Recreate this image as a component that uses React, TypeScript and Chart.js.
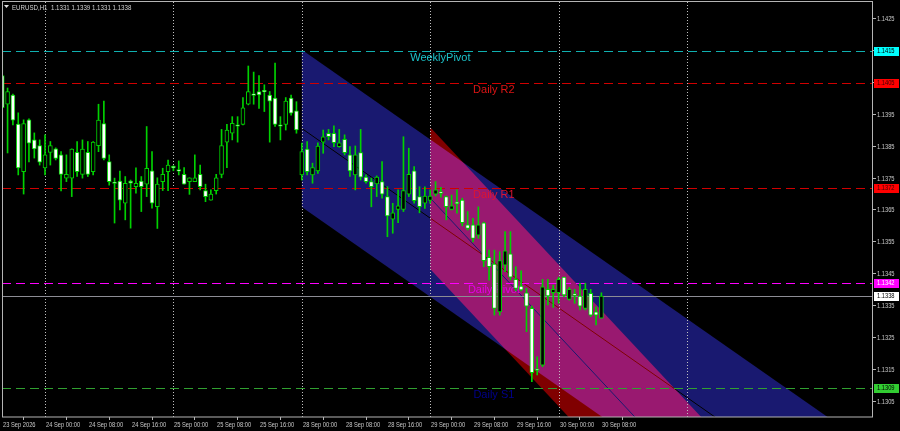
import React, { useEffect, useRef } from "react";
import { Chart, registerables } from "chart.js";

Chart.register(...registerables);

const SANS = '"Liberation Sans", Arial, sans-serif';
const NARROW_SCALE = 0.82;

// ---- candle data (EURUSD H1), bar index 0 = 23 Sep 16:00 ----
const opens = [
  1.14072, 1.13982, 1.14011, 1.1392, 1.1377, 1.13933, 1.1387, 1.13852, 1.13782, 1.13831,
  1.13842, 1.13823, 1.1375, 1.1375, 1.13831, 1.13762, 1.13831, 1.1377, 1.13852, 1.13921,
  1.13802, 1.13735, 1.13741, 1.13671, 1.13741, 1.13723, 1.13741, 1.13731, 1.13773, 1.1366,
  1.13739, 1.1377, 1.13783, 1.13774, 1.13762, 1.13739, 1.13739, 1.13762, 1.13711, 1.13681,
  1.13711, 1.13762, 1.13863, 1.13891, 1.13914, 1.13919, 1.13982, 1.14011, 1.14022, 1.14022,
  1.14011, 1.14001, 1.13915, 1.13919, 1.14001, 1.13961, 1.1376, 1.13841, 1.1376, 1.13773,
  1.13863, 1.13891, 1.13891, 1.13849, 1.13872, 1.13823, 1.1376, 1.1383, 1.13753, 1.13739,
  1.13732, 1.13739, 1.13692, 1.13621, 1.13652, 1.13652, 1.137, 1.13773, 1.13692, 1.13671,
  1.1368, 1.137, 1.13703, 1.13692, 1.13652, 1.13671, 1.13681, 1.13603, 1.13603, 1.13571,
  1.1361, 1.13501, 1.1348, 1.1333, 1.13477, 1.13512, 1.13432, 1.13411, 1.1339, 1.13341,
  1.13148, 1.13163, 1.13401, 1.1339, 1.1339, 1.13439, 1.13369, 1.13384, 1.1338, 1.13341,
  1.13388, 1.1333, 1.1331,
];
const highs = [
  1.14153, 1.14033, 1.14014, 1.13955, 1.13933, 1.13936, 1.13892, 1.1387, 1.13886, 1.13865,
  1.13845, 1.13833, 1.13823, 1.13842, 1.13865, 1.1387, 1.13865, 1.13865, 1.13982, 1.13992,
  1.13823, 1.1375, 1.13772, 1.13755, 1.13744, 1.13782, 1.13755, 1.13912, 1.13833, 1.13751,
  1.13781, 1.13807, 1.13789, 1.13804, 1.13783, 1.13751, 1.13823, 1.13791, 1.13731, 1.13713,
  1.13762, 1.13903, 1.13919, 1.13943, 1.13943, 1.14003, 1.14102, 1.14083, 1.14072, 1.14043,
  1.14022, 1.14111, 1.13943, 1.14003, 1.14011, 1.1399, 1.1386, 1.13865, 1.13797, 1.13861,
  1.13901, 1.13903, 1.13914, 1.13903, 1.13886, 1.13849, 1.13851, 1.13903, 1.1376, 1.1375,
  1.13757, 1.13802, 1.13723, 1.13671, 1.13713, 1.1388, 1.13844, 1.13786, 1.13723, 1.13723,
  1.13713, 1.13739, 1.13721, 1.13694, 1.13697, 1.13713, 1.13687, 1.13645, 1.13624, 1.1366,
  1.13612, 1.13524, 1.13524, 1.13519, 1.13582, 1.13582, 1.13472, 1.13459, 1.13404, 1.13348,
  1.13189, 1.13432, 1.13432, 1.13414, 1.13439, 1.13439, 1.13407, 1.13401, 1.1342, 1.1342,
  1.13401, 1.13346, 1.1339,
];
const lows = [
  1.13911, 1.13829, 1.13917, 1.1376, 1.137, 1.13801, 1.13813, 1.13791, 1.1376, 1.13791,
  1.13807, 1.1371, 1.13739, 1.13692, 1.13755, 1.1375, 1.13755, 1.1376, 1.13833, 1.13807,
  1.13728, 1.13609, 1.1365, 1.13619, 1.13593, 1.13703, 1.13645, 1.13692, 1.13656, 1.13592,
  1.13711, 1.13711, 1.13773, 1.1376, 1.13731, 1.13699, 1.13739, 1.13713, 1.13676, 1.13681,
  1.137, 1.13751, 1.13783, 1.1387, 1.13863, 1.13917, 1.1398, 1.13982, 1.13969, 1.13959,
  1.13863, 1.13912, 1.1387, 1.13901, 1.13948, 1.13891, 1.13744, 1.1376, 1.13734, 1.13765,
  1.13828, 1.1387, 1.13849, 1.13847, 1.13823, 1.13755, 1.13713, 1.13744, 1.13734, 1.1366,
  1.13692, 1.13687, 1.13566, 1.13577, 1.1361, 1.13645, 1.13692, 1.13671, 1.13641, 1.13655,
  1.13671, 1.13694, 1.1369, 1.13619, 1.1365, 1.1364, 1.136, 1.13587, 1.1355, 1.13561,
  1.13472, 1.1343, 1.1332, 1.1332, 1.13456, 1.1343, 1.13396, 1.13396, 1.13268, 1.13111,
  1.13132, 1.13158, 1.13352, 1.13344, 1.13357, 1.13378, 1.13367, 1.13357, 1.13336, 1.13336,
  1.13315, 1.13289, 1.1331,
];
const closes = [
  1.13971, 1.14022, 1.13932, 1.13782, 1.13921, 1.1386, 1.13842, 1.138, 1.13823, 1.13852,
  1.13812, 1.13762, 1.13762, 1.13841, 1.1377, 1.13841, 1.13762, 1.13863, 1.13932, 1.13812,
  1.13739, 1.13733, 1.13681, 1.13734, 1.13734, 1.13734, 1.13723, 1.13781, 1.13671, 1.13731,
  1.13762, 1.13791, 1.13782, 1.13772, 1.13731, 1.13751, 1.13751, 1.13723, 1.13692, 1.137,
  1.13751, 1.13852, 1.13901, 1.13922, 1.13913, 1.13971, 1.14022, 1.1401, 1.14011, 1.14021,
  1.13992, 1.13919, 1.13913, 1.13992, 1.13954, 1.13901, 1.13833, 1.1377, 1.13783, 1.13851,
  1.1388, 1.1388, 1.13861, 1.13861, 1.1383, 1.13773, 1.13823, 1.13753, 1.13739, 1.13723,
  1.13753, 1.137, 1.13631, 1.13641, 1.13663, 1.13711, 1.13762, 1.13679, 1.1366, 1.13694,
  1.13694, 1.13713, 1.13702, 1.1366, 1.13663, 1.1367, 1.1361, 1.13592, 1.13561, 1.13603,
  1.13491, 1.13472, 1.13341, 1.13491, 1.13522, 1.13439, 1.13404, 1.13399, 1.13348, 1.13139,
  1.13146, 1.13409, 1.1338, 1.13401, 1.13432, 1.13383, 1.13401, 1.13382, 1.13348, 1.13401,
  1.1332, 1.1332, 1.1338,
];

// ---- axes ----
const xTickBars = [0, 8, 16, 24, 32, 40, 48, 56, 64, 72, 80, 88, 96, 104, 112];
const xTickLabels = [
  "23 Sep 2026", "24 Sep 00:00", "24 Sep 08:00", "24 Sep 16:00", "25 Sep 00:00",
  "25 Sep 08:00", "25 Sep 16:00", "28 Sep 00:00", "28 Sep 08:00", "28 Sep 16:00",
  "29 Sep 00:00", "29 Sep 08:00", "29 Sep 16:00", "30 Sep 00:00", "30 Sep 08:00",
];
const dayStartBars = [8, 32, 56, 80, 104, 128];
const yTickValues = [
  1.1305, 1.1315, 1.1325, 1.1335, 1.1345, 1.1355, 1.1365, 1.1375, 1.1385, 1.1395, 1.1405, 1.1415, 1.1425,
];
const X_MIN = -0.04;
const X_MAX = 162.77;
const Y_MIN = 1.13;
const Y_MAX = 1.14303;

// ---- pivot levels ----
const levelNames = ["WeeklyPivot", "Daily R2", "Daily R1", "Daily Pivot", "Daily S1"];
const levelValues = [1.1415, 1.1405, 1.1372, 1.1342, 1.1309];
const currentPrice = 1.1338;
const headerText = "EURUSD,H1  1.1331 1.1339 1.1331 1.1338";

// ---- standard deviation channels ----
const channelStartBar = [56, 80];
const channelEndBar = [112, 112];
const channelUpperStart = [1.14153, 1.1391];
const channelUpperEnd = [1.13496, 1.13335];
const channelLowerStart = [1.13659, 1.13465];
const channelLowerEnd = [1.13002, 1.1289];

// ---- styles ----
const channelColors = ["#191970", "#800000"];
const levelLineColors = ["#10b0b0", "#d00000", "#d00000", "#ff00ff", "#30a030"];
const levelTextColors = ["#1cc2c8", "#dc1414", "#dc1432", "#e600e6", "#00008c"];
const levelBoxColors = ["#00ffff", "#ff0000", "#ff0000", "#ff00ff", "#32cd32"];
const levelBoxTextColors = ["#000000", "#400000", "#400000", "#ffffff", "#000000"];
const levelLabelBars = [81.9, 91.9, 91.9, 91.9, 91.9];
const candleLine = "#00d200";
const axisTextColor = "#c8c8c8";

const lineAt = (s: number, e: number, v0: number, v1: number, bar: number) =>
  v0 + ((v1 - v0) * (bar - s)) / (e - s);

function narrowText(ctx: CanvasRenderingContext2D, text: string, x: number, y: number, align: CanvasTextAlign) {
  ctx.save();
  ctx.translate(x, y);
  ctx.scale(NARROW_SCALE, 1);
  ctx.textAlign = align;
  ctx.fillText(text, 0, 0);
  ctx.restore();
}

const mt4Plugin = {
  id: "mt4Overlay",
  beforeDraw(chart: any) {
    const { ctx, chartArea: a, scales } = chart;
    const xs = scales.x;
    const ys = scales.y;
    ctx.save();
    ctx.fillStyle = "#000000";
    ctx.fillRect(0, 0, chart.width, chart.height);
    ctx.beginPath();
    ctx.rect(a.left, a.top, a.right - a.left, a.bottom - a.top);
    ctx.clip();
    ctx.globalCompositeOperation = "lighter";
    channelStartBar.forEach((s, k) => {
      const e = channelEndBar[k];
      const xr = X_MAX + 1;
      ctx.beginPath();
      ctx.moveTo(xs.getPixelForValue(s), ys.getPixelForValue(channelUpperStart[k]));
      ctx.lineTo(xs.getPixelForValue(xr), ys.getPixelForValue(lineAt(s, e, channelUpperStart[k], channelUpperEnd[k], xr)));
      ctx.lineTo(xs.getPixelForValue(xr), ys.getPixelForValue(lineAt(s, e, channelLowerStart[k], channelLowerEnd[k], xr)));
      ctx.lineTo(xs.getPixelForValue(s), ys.getPixelForValue(channelLowerStart[k]));
      ctx.closePath();
      ctx.fillStyle = channelColors[k];
      ctx.fill();
    });
    ctx.globalCompositeOperation = "difference";
    channelStartBar.forEach((s, k) => {
      const e = channelEndBar[k];
      const xr = X_MAX + 1;
      const m0 = (channelUpperStart[k] + channelLowerStart[k]) / 2;
      const m1 = (channelUpperEnd[k] + channelLowerEnd[k]) / 2;
      ctx.beginPath();
      ctx.moveTo(xs.getPixelForValue(s), ys.getPixelForValue(m0));
      ctx.lineTo(xs.getPixelForValue(xr), ys.getPixelForValue(lineAt(s, e, m0, m1, xr)));
      ctx.strokeStyle = channelColors[k];
      ctx.lineWidth = 1;
      ctx.stroke();
    });
    ctx.restore();
  },
  beforeDatasetsDraw(chart: any) {
    const { ctx, chartArea: a, scales } = chart;
    const xs = scales.x;
    const ys = scales.y;
    ctx.save();
    ctx.beginPath();
    ctx.rect(a.left, a.top, a.right - a.left, a.bottom - a.top);
    ctx.clip();
    // dotted day separators
    ctx.fillStyle = "#c0c0c0";
    dayStartBars.forEach((b) => {
      const px = Math.round(xs.getPixelForValue(b));
      for (let yy = Math.ceil(a.top); yy < a.bottom; yy += 3) ctx.fillRect(px, yy, 1, 1);
    });
    // pivot levels (dashed)
    levelValues.forEach((v, k) => {
      const py = Math.round(ys.getPixelForValue(v));
      ctx.fillStyle = levelLineColors[k];
      for (let xx = Math.floor(a.left); xx < a.right; xx += 14) ctx.fillRect(xx, py, 9, 1);
    });
    const cp = Math.round(ys.getPixelForValue(currentPrice));
    ctx.fillStyle = "#8c8c94";
    ctx.fillRect(a.left, cp, a.right - a.left, 1);
    // level names
    ctx.font = `11px ${SANS}`;
    ctx.textAlign = "center";
    ctx.textBaseline = "top";
    levelNames.forEach((n, k) => {
      ctx.fillStyle = levelTextColors[k];
      ctx.fillText(n, xs.getPixelForValue(levelLabelBars[k]), ys.getPixelForValue(levelValues[k]) + 1.5);
    });
    ctx.restore();
  },
  afterDraw(chart: any) {
    const { ctx, chartArea: a, scales } = chart;
    const xs = scales.x;
    const ys = scales.y;
    ctx.save();
    // frame
    ctx.strokeStyle = "#b4b4b4";
    ctx.lineWidth = 1;
    ctx.strokeRect(a.left + 0.5, a.top - 0.5, a.right - a.left - 1, a.bottom - a.top + 0.5);
    // axis labels
    ctx.font = `7px ${SANS}`;
    ctx.fillStyle = axisTextColor;
    ctx.textBaseline = "alphabetic";
    xTickBars.forEach((b, k) => {
      narrowText(ctx, xTickLabels[k], Math.round(xs.getPixelForValue(b)) + 1, 426.5, "left");
    });
    ctx.textBaseline = "middle";
    yTickValues.forEach((v) => {
      narrowText(ctx, v.toFixed(4), a.right + 4, ys.getPixelForValue(v) + 0.5, "left");
    });
    // price boxes
    const box = (v: number, bg: string, fg: string) => {
      const py = Math.round(ys.getPixelForValue(v));
      ctx.fillStyle = bg;
      ctx.fillRect(a.right + 1, py - 4, 25, 9);
      ctx.fillStyle = fg;
      narrowText(ctx, v.toFixed(4), a.right + 4, py + 0.5, "left");
    };
    levelValues.forEach((v, k) => box(v, levelBoxColors[k], levelBoxTextColors[k]));
    box(currentPrice, "#ffffff", "#000000");
    // header
    ctx.fillStyle = "#e0e0e0";
    ctx.beginPath();
    ctx.moveTo(4, 5);
    ctx.lineTo(9, 5);
    ctx.lineTo(6.5, 8);
    ctx.closePath();
    ctx.fill();
    ctx.fillStyle = "#d2d2d2";
    ctx.font = `7.5px ${SANS}`;
    ctx.textBaseline = "alphabetic";
    narrowText(ctx, headerText, 12, 9.5, "left");
    ctx.restore();
  },
};

export default function App() {
  const ref = useRef<HTMLCanvasElement>(null);
  useEffect(() => {
    document.body.style.margin = "0";
    document.body.style.background = "#000";
    const wickData = opens.map((_, i) => ({ x: i, y: [lows[i], highs[i]] }));
    const bodyData = opens.map((o, i) => ({ x: i, y: [o, closes[i]] }));
    const bodyColors = opens.map((o, i) => (closes[i] >= o ? "#000000" : "#ffffff"));
    const chart = new Chart(ref.current as HTMLCanvasElement, {
      type: "bar",
      data: {
        datasets: [
          {
            label: "body",
            data: bodyData as any,
            backgroundColor: bodyColors,
            borderColor: candleLine,
            borderWidth: 1,
            borderSkipped: false,
            barThickness: 4,
            minBarLength: 1.5,
            grouped: false,
            order: 0,
          } as any,
          {
            label: "wick",
            data: wickData as any,
            backgroundColor: candleLine,
            borderWidth: 0,
            barThickness: 1,
            grouped: false,
            order: 1,
          } as any,
        ],
      },
      options: {
        animation: false,
        responsive: false,
        devicePixelRatio: 1,
        events: [],
        layout: { padding: { left: 2, top: 2, right: 0, bottom: 0 } },
        plugins: { legend: { display: false }, tooltip: { enabled: false } },
        scales: {
          x: {
            type: "linear",
            position: "bottom",
            min: X_MIN,
            max: X_MAX,
            offset: false,
            afterBuildTicks: (s: any) => {
              s.ticks = xTickBars.map((v) => ({ value: v }));
            },
            afterFit: (s: any) => {
              s.height = 14;
              s.paddingLeft = 0;
              s.paddingRight = 0;
            },
            ticks: { display: false, autoSkip: false, maxRotation: 0, minRotation: 0 },
            grid: { drawOnChartArea: false, drawTicks: true, tickLength: 3, tickColor: "#b4b4b4" },
            border: { display: false },
          } as any,
          y: {
            type: "linear",
            position: "right",
            min: Y_MIN,
            max: Y_MAX,
            afterBuildTicks: (s: any) => {
              s.ticks = yTickValues.map((v) => ({ value: v }));
            },
            afterFit: (s: any) => {
              s.width = 27;
              s.paddingTop = 0;
              s.paddingBottom = 0;
            },
            ticks: { display: false, autoSkip: false },
            grid: { drawOnChartArea: false, drawTicks: true, tickLength: 3, tickColor: "#b4b4b4" },
            border: { display: false },
          } as any,
        },
      },
      plugins: [mt4Plugin as any],
    });
    return () => chart.destroy();
  }, []);
  return (
    <div style={{ width: 900, height: 431, background: "#000" }}>
      <canvas ref={ref} width={900} height={431} style={{ display: "block", width: 900, height: 431 }} />
    </div>
  );
}
